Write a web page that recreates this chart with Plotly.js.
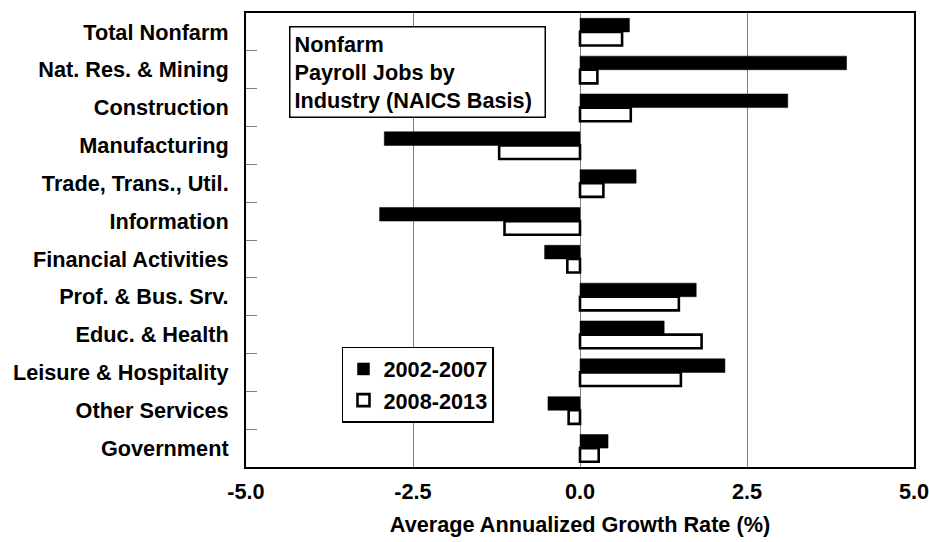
<!DOCTYPE html>
<html>
<head>
<meta charset="utf-8">
<script src="https://cdn.plot.ly/plotly-3.0.1.min.js"></script>
<style>html,body{margin:0;padding:0;background:#fff;}#chart{width:929px;height:542px;}</style>
</head>
<body>
<div id="chart"></div>
<script>
const categories = ["Total Nonfarm","Nat. Res. & Mining","Construction","Manufacturing","Trade, Trans., Util.","Information","Financial Activities","Prof. & Bus. Srv.","Educ. & Health","Leisure & Hospitality","Other Services","Government"];
const series1Name = "2002-2007";
const series1 = [0.74, 3.99, 3.11, -2.93, 0.84, -3.00, -0.53, 1.74, 1.26, 2.17, -0.48, 0.42];
const series2Name = "2008-2013";
const series2 = [0.63, 0.26, 0.76, -1.21, 0.35, -1.13, -0.19, 1.48, 1.82, 1.51, -0.17, 0.28];
const xTicks = [-5, -2.5, 0, 2.5, 5];
const xTickLabels = ["-5.0", "-2.5", "0.0", "2.5", "5.0"];
const boxText = "Nonfarm<br>Payroll Jobs by<br>Industry (NAICS Basis)";
const xTitle = "Average Annualized Growth Rate (%)";

const FONT = {family: "Liberation Sans, Arial, sans-serif", size: 21.7, color: "#000", weight: "bold"};

const traces = [
  {type: "bar", orientation: "h", name: series1Name, y: categories, x: series1,
   marker: {color: "#000", line: {color: "#000", width: 0.5}}},
  {type: "bar", orientation: "h", name: series2Name, y: categories, x: series2,
   marker: {color: "#fff", line: {color: "#000", width: 2.6}}}
];

const layout = {
  width: 929, height: 542,
  margin: {l: 246, r: 15, t: 13, b: 75, pad: 0},
  paper_bgcolor: "#fff", plot_bgcolor: "#fff",
  font: FONT,
  barmode: "group", bargap: 0.28, bargroupgap: 0,
  showlegend: true,
  legend: {x: 0.1437, y: 0.2647, xanchor: "left", yanchor: "top",
    bgcolor: "#fff", bordercolor: "#000", borderwidth: 1.5,
    font: FONT, traceorder: "normal", tracegroupgap: 0},
  xaxis: {range: [-5, 5], tickvals: xTicks, ticktext: xTickLabels,
    showgrid: true, gridcolor: "#808080", gridwidth: 1, zeroline: false,
    showline: true, mirror: true, linecolor: "#000", linewidth: 2,
    ticks: "", ticklabelstandoff: 4, ticklabeloverflow: "allow",
    title: {text: xTitle, font: FONT, standoff: 14}, fixedrange: true},
  yaxis: {type: "category", autorange: "reversed", tickson: "boundaries",
    ticks: "inside", ticklen: 11, tickcolor: "#808080", tickwidth: 1,
    showgrid: false, zeroline: false,
    showline: true, mirror: true, linecolor: "#000", linewidth: 2,
    ticklabelstandoff: 11, fixedrange: true},
  annotations: [{xref: "paper", yref: "paper", x: 0.0648, y: 0.972,
    xanchor: "left", yanchor: "top", align: "left", text: boxText,
    showarrow: false, font: FONT, bgcolor: "#fff", bordercolor: "#000",
    borderwidth: 1.5, borderpad: 4, width: 246}]
};

Plotly.newPlot("chart", traces, layout, {staticPlot: true, displayModeBar: false});
</script>
</body>
</html>
